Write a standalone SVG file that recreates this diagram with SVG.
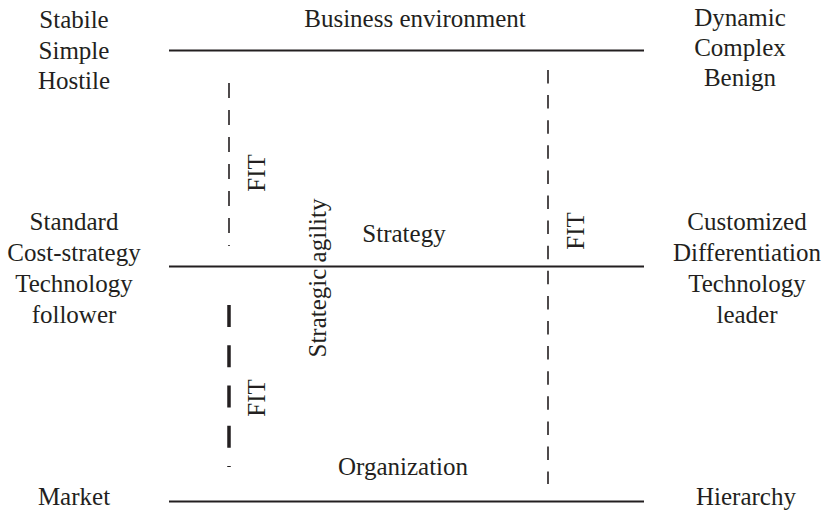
<svg xmlns="http://www.w3.org/2000/svg" width="826" height="513" viewBox="0 0 826 513" font-family="'Liberation Serif', 'Times New Roman', 'DejaVu Serif', serif">
<style>
text{font-family:'Liberation Serif','Times New Roman','DejaVu Serif',serif;font-size:25px;fill:#231f20;text-anchor:middle}
.axis{stroke:#231f20;stroke-width:2;fill:none}
.thin{stroke:#231f20;stroke-width:1.6;fill:none;stroke-dasharray:15 12}
.thick{stroke:#231f20;stroke-width:3.5;fill:none;stroke-dasharray:22 18.25}
.right{stroke:#231f20;stroke-width:1.6;fill:none;stroke-dasharray:13.5 11.6}
</style>
<rect width="826" height="513" fill="#fff"/>
<g id="connectors">
<line class="axis" x1="169" y1="50.5" x2="644" y2="50.5"/>
<line class="axis" x1="169" y1="266.5" x2="644" y2="266.5"/>
<line class="axis" x1="169" y1="501.5" x2="644" y2="501.5"/>
<line class="thin" x1="229" y1="83" x2="229" y2="246"/>
<line class="thick" x1="229" y1="305" x2="229" y2="467"/>
<line class="right" x1="548" y1="70" x2="548" y2="484"/>
</g>
<g id="env-left">
<text x="74" y="28">Stabile</text>
<text x="74" y="59">Simple</text>
<text x="74" y="89">Hostile</text>
</g>
<g id="env-right">
<text x="740" y="26">Dynamic</text>
<text x="740" y="56">Complex</text>
<text x="740" y="86">Benign</text>
</g>
<g id="business-environment">
<text x="415" y="27">Business environment</text>
</g>
<g id="strategy-left">
<text x="74" y="230">Standard</text>
<text x="74" y="261">Cost-strategy</text>
<text x="74" y="292">Technology</text>
<text x="74" y="323">follower</text>
</g>
<g id="strategy-right">
<text x="747" y="230">Customized</text>
<text x="747" y="261">Differentiation</text>
<text x="747" y="292">Technology</text>
<text x="747" y="323">leader</text>
</g>
<g id="strategy">
<text x="404" y="242">Strategy</text>
</g>
<g id="organization">
<text x="403" y="475">Organization</text>
</g>
<g id="market">
<text x="74" y="505">Market</text>
</g>
<g id="hierarchy">
<text x="746" y="505">Hierarchy</text>
</g>
<g id="strategic-agility">
<text transform="translate(326,278) rotate(-90)">Strategic agility</text>
</g>
<g id="fit-upper">
<text transform="translate(265,173) rotate(-90)">FIT</text>
</g>
<g id="fit-lower">
<text transform="translate(265,398) rotate(-90)">FIT</text>
</g>
<g id="fit-right">
<text transform="translate(584,231) rotate(-90)">FIT</text>
</g>
</svg>
